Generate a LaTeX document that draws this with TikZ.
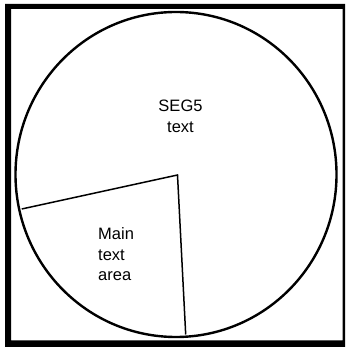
\documentclass[tikz,border=0pt]{standalone}
\usepackage{fontspec}
\setmainfont{Liberation Sans}
\begin{document}
\begin{tikzpicture}[x=1pt,y=1pt,
  label/.style={inner sep=0pt, font=\fontsize{16.5}{20.5}\selectfont},
  rim/.style={line width=2.4pt},
  radial/.style={line width=1.5pt}]
\useasboundingbox (0,0) rectangle (346,347);
% heavy frame (thinner on the right side)
\fill[black, even odd rule] (5,0) rectangle (345,343) (11,6.5) rectangle (342.5,338);
% outer circle of the layout
\draw[rim] (176,172.5) ellipse [x radius=160.5, y radius=162.5];
% sector boundaries
\coordinate (hub) at (177.5,172);
\coordinate (westrim) at (21.7,138);
\coordinate (southrim) at (185.7,12.5);
\draw[radial, line join=miter] (westrim) -- (hub) -- (southrim);
% region labels (base anchor sits on the last line)
\node[label, align=center, anchor=base] (seg) at (180.5,214.5) {SEG5\\text};
\node[label, align=left, anchor=base west] (main) at (98,66) {Main\\text\\area};
\end{tikzpicture}
\end{document}
